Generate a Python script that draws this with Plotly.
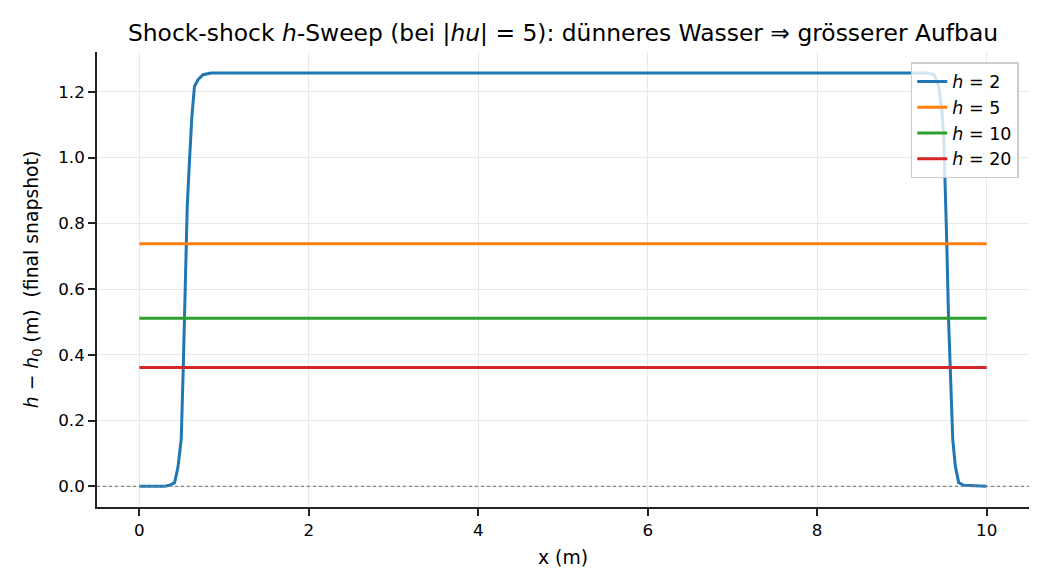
import plotly.graph_objects as go

# --- data ---
x_h2 = [0.0, 0.30, 0.357, 0.416, 0.455, 0.494, 0.518, 0.525, 0.565, 0.592, 0.62, 0.65, 0.69, 0.75, 0.847,
        9.30, 9.38, 9.435, 9.474, 9.494, 9.506, 9.514, 9.53, 9.55, 9.573, 9.60, 9.63, 9.67, 9.73, 10.0]
y_h2 = [0.0, 0.0, 0.003, 0.011, 0.057, 0.143, 0.36, 0.447, 0.851, 0.993, 1.125, 1.216, 1.236, 1.252, 1.257,
        1.257, 1.252, 1.216, 1.135, 1.064, 0.973, 0.851, 0.737, 0.512, 0.36, 0.143, 0.062, 0.011, 0.003, 0.0]

x_h5 = [0.0, 3.0, 4.5, 5.5, 7.0, 10.0]
y_h5 = [0.738, 0.738, 0.740, 0.740, 0.738, 0.738]

x_h10 = [0.0, 10.0]
y_h10 = [0.511, 0.511]

x_h20 = [0.0, 10.0]
y_h20 = [0.361, 0.361]

series = [
    ("<i>h</i> = 2", x_h2, y_h2, "#1f77b4"),
    ("<i>h</i> = 5", x_h5, y_h5, "#ff7f0e"),
    ("<i>h</i> = 10", x_h10, y_h10, "#2ca02c"),
    ("<i>h</i> = 20", x_h20, y_h20, "#d62728"),
]

x_ticks = [0, 2, 4, 6, 8, 10]
y_ticks = [0.0, 0.2, 0.4, 0.6, 0.8, 1.0, 1.2]

FONT = "DejaVu Sans"
W, H = 1042, 580  # page body has an 8px margin

fig = go.Figure()
for name, xs, ys, col in series:
    fig.add_trace(go.Scatter(x=xs, y=ys, mode="lines", name=name,
                             line=dict(color=col, width=3)))

fig.add_shape(type="line", xref="paper", yref="y", x0=0, x1=1, y0=0, y1=0,
              line=dict(color="gray", width=1.2, dash="dot"), layer="above")

fig.update_layout(
    width=W, height=H,
    margin=dict(l=89, r=21, t=44, b=81),
    paper_bgcolor="white", plot_bgcolor="white",
    font=dict(family=FONT, size=16.7, color="black"),
    title=dict(text="Shock-shock <i>h</i>-Sweep (bei |<i>hu</i>| = 5): dünneres Wasser ⇒ grösserer Aufbau",
               x=555 / W, xanchor="center", y=1 - 25 / H, yanchor="middle",
               font=dict(family=FONT, size=23.4, color="black")),
    showlegend=True,
    legend=dict(x=0.989, xanchor="right", y=0.978, yanchor="top",
                bgcolor="rgba(255,255,255,0.8)", bordercolor="#cccccc", borderwidth=1.5,
                font=dict(family=FONT, size=17.5, color="black")),
    xaxis=dict(range=[-0.5, 10.5], tickvals=x_ticks, ticktext=[str(v) for v in x_ticks],
               showgrid=True, gridcolor="#e8e8e8", gridwidth=1.3, zeroline=False,
               showline=True, linecolor="#222222", linewidth=1.7, mirror=False,
               ticks="outside", ticklen=7, tickwidth=1.5, tickcolor="#222222",
               tickfont=dict(family=FONT, size=16.7),
               title=dict(text="x (m)", font=dict(family=FONT, size=18.8), standoff=12)),
    yaxis=dict(range=[-0.063, 1.321], tickvals=y_ticks, ticktext=[f"{v:.1f}" for v in y_ticks],
               showgrid=True, gridcolor="#e8e8e8", gridwidth=1.3, zeroline=False,
               showline=True, linecolor="#222222", linewidth=1.7, mirror=False,
               ticks="outside", ticklen=7, tickwidth=1.5, tickcolor="#222222",
               tickfont=dict(family=FONT, size=16.7),
               title=dict(text="<i>h</i> − <i>h</i><sub>0</sub> (m)  (final snapshot)",
                          font=dict(family=FONT, size=18.8), standoff=15)),
)

fig.write_html("out.html")
